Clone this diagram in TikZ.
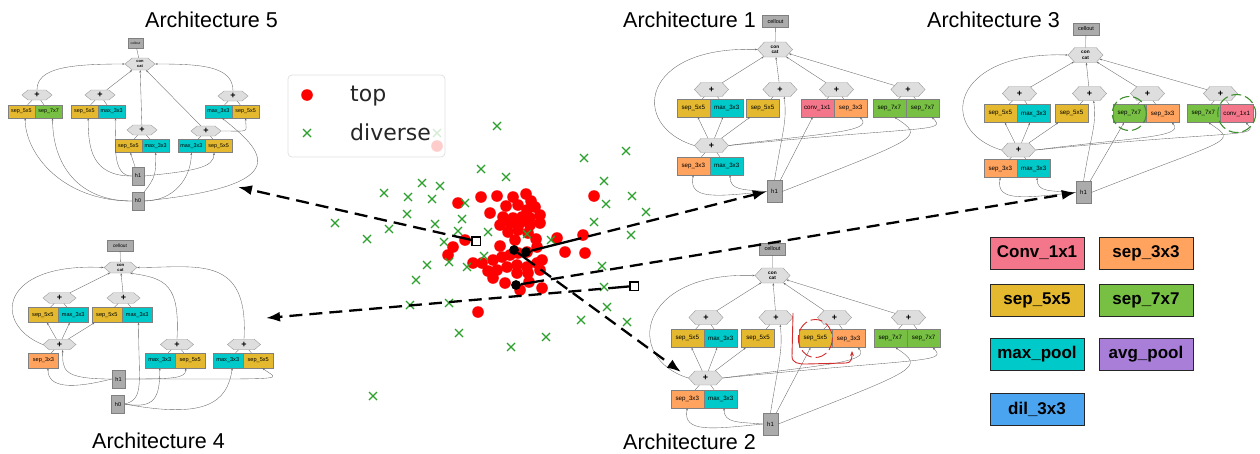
\documentclass[tikz,border=0pt]{standalone}
\usepackage{fontspec}
\setmainfont{Liberation Sans}
\newfontfamily\plotfont{DejaVu Sans}
\usetikzlibrary{calc, positioning, shapes.symbols, arrows.meta}

\definecolor{ColorConv}{HTML}{F4768A}
\definecolor{ColorSepThree}{HTML}{FFA35F}
\definecolor{ColorSepFive}{HTML}{E5B92F}
\definecolor{ColorSepSeven}{HTML}{77C043}
\definecolor{ColorMaxPool}{HTML}{00C9C9}
\definecolor{ColorAvgPool}{HTML}{A97ED9}
\definecolor{ColorDil}{HTML}{4AA4EF}
\definecolor{ColorHex}{HTML}{DEDEDE}
\definecolor{ColorCell}{HTML}{ABABAB}
\definecolor{ColorTop}{HTML}{FF0000}
\definecolor{ColorDiverse}{HTML}{2CA02C}
\definecolor{ColorRedMark}{HTML}{D22B2B}
\definecolor{ColorGreenMark}{HTML}{3F8F2F}

\tikzset{
  opbox/.style={draw=black!50, line width=0.4pt, inner sep=0pt,
    minimum width=33pt, minimum height=18pt, font=\fontsize{6.2}{7}\selectfont},
  conv/.style={opbox, fill=ColorConv},
  septhree/.style={opbox, fill=ColorSepThree},
  sepfive/.style={opbox, fill=ColorSepFive},
  sepseven/.style={opbox, fill=ColorSepSeven},
  maxpool/.style={opbox, fill=ColorMaxPool},
  sumhex/.style={signal, signal to=east and west, signal pointer angle=95,
    draw=black!40, fill=ColorHex, line width=0.4pt, inner sep=0pt,
    minimum width=34pt, minimum height=14pt, font=\bfseries\fontsize{9}{9}\selectfont},
  cathex/.style={sumhex, minimum width=35pt, minimum height=15pt, align=center,
    font=\bfseries\fontsize{4.8}{5.5}\selectfont},
  cellbox/.style={draw=black!50, fill=ColorCell, line width=0.4pt, inner sep=0pt,
    minimum width=26pt, minimum height=12pt, font=\fontsize{5.5}{6}\selectfont},
  inbox/.style={cellbox, minimum width=15pt, minimum height=22pt, font=\fontsize{6}{7}\selectfont},
  flow/.style={draw=black!60, line width=0.35pt, -{Stealth[length=2.4pt, width=1.8pt]}},
  stub/.style={draw=black!60, line width=0.35pt},
  archtitle/.style={font=\fontsize{21.5}{24}\selectfont, anchor=base west, inner sep=0pt},
  legendbox/.style={draw=black!85, line width=0.6pt, minimum width=94pt, minimum height=32pt,
    inner sep=0pt, font=\bfseries\fontsize{17}{20}\selectfont},
  legendtext/.style={font=\plotfont\fontsize{22}{26}\selectfont, anchor=base west,
    inner sep=0pt, text=black!85},
  diversecross/.style={draw=ColorDiverse, line width=1.3pt},
  pick/.style={circle, fill=black, minimum size=9.5pt, inner sep=0pt},
  pickbox/.style={draw=black, line width=1.5pt, fill=white, minimum size=8.5pt, inner sep=0pt},
  lead/.style={line width=2.3pt},
  jump/.style={line width=2.3pt, dash pattern=on 0pt off 7pt on 13pt off 0pt,
    -{Latex[length=14pt, width=10pt]}},
  redmark/.style={draw=ColorRedMark, line width=0.9pt},
  greenmark/.style={draw=ColorGreenMark, line width=1.1pt, dash pattern=on 10pt off 4pt},
}

\begin{document}
\begin{tikzpicture}[x=1pt, y=-1pt]

\useasboundingbox (0,0) rectangle (1260,453);

% Titulos
\node[archtitle] (arch5) at (145,27) {Architecture 5};
\node[archtitle] (arch1) at (623,27) {Architecture 1};
\node[archtitle] (arch3) at (927,27) {Architecture 3};
\node[archtitle] (arch4) at (92,448) {Architecture 4};
\node[archtitle] (arch2) at (623,449) {Architecture 2};

% Nube de puntos: grupo "top"
\foreach \px/\py in {458/203, 481/197, 497/196, 513/197, 526/194, 490/213, 594/196,
    518/205, 527/210, 535/207, 540/215, 503/217, 513/218, 522/217, 530/218, 500/225,
    510/223, 520/223, 530/225, 540/223, 508/232, 518/230, 528/233, 557/238, 583/235,
    565/252, 585/253, 453/247, 448/255, 465/240, 473/263, 482/263, 493/260, 502/257,
    510/255, 518/253, 527/252, 537/247, 542/260, 497/270, 507/267, 517/265, 527/267,
    537/263, 493/278, 505/283, 517/273, 528/273, 540/270, 542/288, 478/312, 437/146,
    506/206, 531/201, 536/239, 500/246, 488/271, 529/282, 520/290, 515/240}
  \fill[ColorTop] (\px,\py) circle[radius=5.8];

% Nube de puntos: grupo "diverse"
\foreach \px/\py in {497/126, 481/169, 506/177, 422/183, 440/186, 384/193, 408/197,
    432/199, 465/203, 407/214, 335/223, 435/224, 462/219, 389/229, 367/239, 444/242,
    458/231, 488/232, 527/234, 551/240, 484/256, 449/262, 427/265, 467/267, 416/280,
    410/305, 449/303, 459/333, 511/347, 546/337, 373/396, 584/158, 626/151, 604/181,
    632/196, 606/204, 646/212, 594/222, 631/235, 602/266, 604/287, 607/307, 581/320,
    627/322, 437/133}
  \draw[diversecross] (\px,\py) ++(-4,-4) -- ++(8,8) ++(-8,0) -- ++(8,-8);

% Leyenda de la nube
\draw[rounded corners=4pt, draw=black!12, line width=0.8pt, fill=white, fill opacity=0.8]
  (288,75) rectangle (445,157);
\fill[ColorTop] (307,95) circle[radius=5.8];
\draw[diversecross] (307,133) ++(-4,-4) -- ++(8,8) ++(-8,0) -- ++(8,-8);
\node[legendtext] (ltop) at (350,101) {top};
\node[legendtext] (ldiverse) at (350,140) {diverse};

% Arquitectura 1
\node[cellbox] (a1out) at (775.5,21.5) {cellout};
\node[cathex] (a1cat) at (775,49.5) {con\\cat};
\node[sumhex] (a1sa) at (711.5,89.5) {+};
\node[sumhex] (a1sb) at (780,89.5) {+};
\node[sumhex] (a1sc) at (836.5,89.5) {+};
\node[sumhex] (a1sd) at (908,89.5) {+};
\node[sepfive, anchor=east] (a1oa) at (710,108) {sep\_5x5};
\node[maxpool, right=0pt of a1oa] (a1oar) {max\_3x3};
\node[sepfive] (a1ob) at (762.5,108) {sep\_5x5};
\node[conv, anchor=east] (a1oc) at (834,108) {conv\_1x1};
\node[septhree, right=0pt of a1oc] (a1ocr) {sep\_3x3};
\node[sepseven, anchor=east] (a1od) at (906,108) {sep\_7x7};
\node[sepseven, right=0pt of a1od] (a1odr) {sep\_7x7};
\node[sumhex] (a1sl) at (711.5,145.5) {+};
\node[septhree, anchor=east] (a1ol) at (710,166) {sep\_3x3};
\node[maxpool, right=0pt of a1ol] (a1olr) {max\_3x3};
\node[inbox] (a1h1) at (774.5,191.5) {h1};

\draw[stub] (a1out) -- (a1cat);
\draw[flow] (a1sa) -- (a1cat);
\draw[flow] (a1sb) -- (a1cat);
\draw[flow] (a1sc) -- (a1cat);
\draw[flow] (a1sd) -- (a1cat);
\draw[stub] (a1oa) -- (a1sa) (a1oar) -- (a1sa) (a1ob) -- (a1sb) (a1oc) -- (a1sc)
  (a1ocr) -- (a1sc) (a1od) -- (a1sd) (a1odr) -- (a1sd) (a1ol) -- (a1sl) (a1olr) -- (a1sl);
\draw[flow] (a1sl) -- (a1oa);
\draw[flow] (a1sl) -- (a1oar);
\draw[flow] (a1sl) -- (a1ob);
\draw[flow] (a1sl.west) .. controls +(-65,-20) and +(-117,-4) .. (a1cat.west);
\draw[flow] (a1sl.east) .. controls +(90,-12) and +(15,15) .. (a1ocr.-45);
\draw[flow] (a1sl.east) .. controls +(200,-20) and +(15,15) .. (a1odr.-45);
\draw[flow] (a1h1.west) .. controls +(-50,5) and +(-5,25) .. (a1ol.south);
\draw[flow] (a1h1.west) .. controls +(-25,-2) and +(0,15) .. (a1olr.-70);
\draw[flow] (a1h1.north) .. controls +(8,-50) and +(3,25) .. (a1sb.-60);
\draw[flow] (a1h1) -- (a1oc);
\draw[flow] (a1h1.east) .. controls +(140,-55) and +(30,20) .. (a1od.-60);

% Arquitectura 3
\node[cellbox] (a3out) at (1086,29) {cellout};
\node[cathex] (a3cat) at (1085.5,55) {con\\cat};
\node[sumhex] (a3sa) at (1019.5,93.5) {+};
\node[sumhex] (a3sb) at (1089.5,93.5) {+};
\node[sumhex] (a3sc) at (1147.5,93.5) {+};
\node[sumhex] (a3sd) at (1220.5,93.5) {+};
\node[sepfive, anchor=east] (a3oa) at (1017,113.5) {sep\_5x5};
\node[maxpool, right=0pt of a3oa] (a3oar) {max\_3x3};
\node[sepfive] (a3ob) at (1071.5,113.5) {sep\_5x5};
\node[sepseven, anchor=east] (a3oc) at (1146,113.5) {sep\_7x7};
\node[septhree, right=0pt of a3oc] (a3ocr) {sep\_3x3};
\node[sepseven, anchor=east] (a3od) at (1220,113.5) {sep\_7x7};
\node[conv, right=0pt of a3od] (a3odr) {conv\_1x1};
\node[sumhex] (a3sl) at (1018.5,150) {+};
\node[septhree, anchor=east] (a3ol) at (1017,168.5) {sep\_3x3};
\node[maxpool, right=0pt of a3ol] (a3olr) {max\_3x3};
\node[inbox] (a3h1) at (1083.5,192.5) {h1};

\draw[stub] (a3out) -- (a3cat);
\draw[flow] (a3sa) -- (a3cat);
\draw[flow] (a3sb) -- (a3cat);
\draw[flow] (a3sc) -- (a3cat);
\draw[flow] (a3sd) -- (a3cat);
\draw[stub] (a3oa) -- (a3sa) (a3oar) -- (a3sa) (a3ob) -- (a3sb) (a3oc) -- (a3sc)
  (a3ocr) -- (a3sc) (a3od) -- (a3sd) (a3odr) -- (a3sd) (a3ol) -- (a3sl) (a3olr) -- (a3sl);
\draw[flow] (a3sl) -- (a3oa);
\draw[flow] (a3sl) -- (a3oar);
\draw[flow] (a3sl) -- (a3ob);
\draw[flow] (a3sl.west) .. controls +(-65,-20) and +(-117,-4) .. (a3cat.west);
\draw[flow] (a3sl.east) .. controls +(90,-12) and +(15,15) .. (a3ocr.-45);
\draw[flow] (a3sl.east) .. controls +(200,-20) and +(15,15) .. (a3odr.-45);
\draw[flow] (a3h1.west) .. controls +(-50,5) and +(-5,25) .. (a3ol.south);
\draw[flow] (a3h1.west) .. controls +(-25,-2) and +(0,15) .. (a3olr.-70);
\draw[flow] (a3h1.north) .. controls +(8,-50) and +(3,25) .. (a3sb.-60);
\draw[flow] (a3h1) -- (a3oc);
\draw[flow] (a3h1.east) .. controls +(140,-55) and +(30,20) .. (a3od.-60);
\draw[greenmark] (a3oc.center) circle[radius=17];
\draw[greenmark] (a3odr.center) circle[radius=19];

% Arquitectura 2
\node[cellbox] (a2out) at (772.5,249) {cellout};
\node[cathex] (a2cat) at (772.5,275.5) {con\\cat};
\node[sumhex] (a2sa) at (706,317.5) {+};
\node[sumhex] (a2sb) at (776,317.5) {+};
\node[sumhex] (a2sc) at (834.5,317.5) {+};
\node[sumhex] (a2sd) at (908.5,317.5) {+};
\node[sepfive, anchor=east] (a2oa) at (704,338.5) {sep\_5x5};
\node[maxpool, right=0pt of a2oa] (a2oar) {max\_3x3};
\node[sepfive] (a2ob) at (758,338.5) {sep\_5x5};
\node[sepfive, anchor=east] (a2oc) at (832,338.5) {sep\_5x5};
\node[septhree, right=0pt of a2oc] (a2ocr) {sep\_3x3};
\node[sepseven, anchor=east] (a2od) at (907,338.5) {sep\_7x7};
\node[sepseven, right=0pt of a2od] (a2odr) {sep\_7x7};
\node[sumhex] (a2sl) at (705.5,378) {+};
\node[septhree, anchor=east] (a2ol) at (704,399) {sep\_3x3};
\node[maxpool, right=0pt of a2ol] (a2olr) {max\_3x3};
\node[inbox] (a2h1) at (770.5,424) {h1};

\draw[stub] (a2out) -- (a2cat);
\draw[flow] (a2sa) -- (a2cat);
\draw[flow] (a2sb) -- (a2cat);
\draw[flow] (a2sc) -- (a2cat);
\draw[flow] (a2sd) -- (a2cat);
\draw[stub] (a2oa) -- (a2sa) (a2oar) -- (a2sa) (a2ob) -- (a2sb) (a2oc) -- (a2sc)
  (a2ocr) -- (a2sc) (a2od) -- (a2sd) (a2odr) -- (a2sd) (a2ol) -- (a2sl) (a2olr) -- (a2sl);
\draw[flow] (a2sl) -- (a2oa);
\draw[flow] (a2sl) -- (a2oar);
\draw[flow] (a2sl) -- (a2ob);
\draw[flow] (a2sl.west) .. controls +(-65,-20) and +(-117,-4) .. (a2cat.west);
\draw[flow] (a2sl.east) .. controls +(90,-12) and +(15,15) .. (a2ocr.-45);
\draw[flow] (a2sl.east) .. controls +(200,-20) and +(15,15) .. (a2odr.-45);
\draw[flow] (a2h1.west) .. controls +(-50,5) and +(-5,25) .. (a2ol.south);
\draw[flow] (a2h1.west) .. controls +(-25,-2) and +(0,15) .. (a2olr.-70);
\draw[flow] (a2h1.north) .. controls +(8,-50) and +(3,25) .. (a2sb.-60);
\draw[flow] (a2h1) -- (a2oc);
\draw[flow] (a2h1.east) .. controls +(140,-55) and +(30,20) .. (a2od.-60);

% Marca roja a mano
\draw[redmark, dash pattern=on 12pt off 4pt] (a2oc.center) ellipse[x radius=17, y radius=19];
\draw[redmark, -{Stealth[length=5pt, width=4pt]}] (793,313) -- (792,356)
  .. controls (792,363) and (798,364) .. (806,364) -- (846,363)
  .. controls (851,363) and (852,359) .. (852,351);

% Arquitectura 4
\begin{scope}[opbox/.append style={minimum width=30pt, minimum height=15pt, font=\fontsize{5.6}{6}\selectfont},
    sumhex/.append style={minimum width=33pt, minimum height=10.5pt, signal pointer angle=80},
    cathex/.append style={minimum width=33pt, minimum height=11pt, font=\bfseries\fontsize{4.2}{4.8}\selectfont},
    cellbox/.append style={minimum width=26pt, minimum height=11pt, font=\fontsize{4.8}{5}\selectfont},
    inbox/.append style={minimum width=13pt, minimum height=18pt, font=\fontsize{5.6}{6}\selectfont}]
\node[cellbox] (a4out) at (120,245.5) {cellout};
\node[cathex] (a4cat) at (120.5,267.5) {con\\cat};
\node[sumhex] (a4sa) at (59.5,298) {+};
\node[sumhex] (a4sb) at (123.5,298) {+};
\node[sepfive, anchor=east] (a4oa) at (58,315) {sep\_5x5};
\node[maxpool, right=0pt of a4oa] (a4oar) {max\_3x3};
\node[sepfive, anchor=east] (a4ob) at (122,315) {sep\_5x5};
\node[maxpool, right=0pt of a4ob] (a4obr) {max\_3x3};
\node[sumhex] (a4sl) at (59.5,344.5) {+};
\node[septhree] (a4ol) at (43.5,360.5) {sep\_3x3};
\node[sumhex] (a4sc) at (177,344.5) {+};
\node[maxpool, anchor=east] (a4oc) at (175,360.5) {max\_3x3};
\node[sepfive, right=0pt of a4oc] (a4ocr) {sep\_5x5};
\node[sumhex] (a4sd) at (244,344.5) {+};
\node[maxpool, anchor=east] (a4od) at (243,360.5) {max\_3x3};
\node[sepfive, right=0pt of a4od] (a4odr) {sep\_5x5};
\node[inbox] (a4h1) at (118.5,379) {h1};
\node[inbox] (a4h0) at (118,404) {h0};
\end{scope}

\draw[stub] (a4out) -- (a4cat);
\draw[flow] (a4sa) -- (a4cat);
\draw[flow] (a4sb) -- (a4cat);
\draw[flow] (a4sl.west) .. controls +(-50,-20) and +(-105,-5) .. (a4cat.west);
\draw[flow] (a4sc.north) .. controls +(3,-55) and +(35,5) .. (a4cat.-30);
\draw[flow] (a4sd.north) .. controls +(5,-85) and +(60,0) .. (a4cat.east);
\draw[stub] (a4oa) -- (a4sa) (a4oar) -- (a4sa) (a4ob) -- (a4sb) (a4obr) -- (a4sb)
  (a4ol) -- (a4sl) (a4oc) -- (a4sc) (a4ocr) -- (a4sc) (a4od) -- (a4sd) (a4odr) -- (a4sd);
\draw[flow] (a4sl) -- (a4oa);
\draw[flow] (a4sl) -- (a4oar);
\draw[flow] (a4sl) -- (a4ob);
\draw[flow] (a4h1.west) .. controls +(-50,0) and +(0,20) .. (a4sl.-60);
\draw[flow] (a4h1.west) .. controls +(-40,10) and +(0,20) .. (a4ol.-60);
\draw[flow] (a4h0.east) .. controls +(20,-5) and +(0,60) .. (a4obr.-80);
\draw[flow] (a4h0.east) .. controls +(30,5) and +(0,30) .. (a4oc.south);
\draw[flow] (a4h1.east) .. controls +(50,0) and +(0,10) .. (a4ocr.-120);
\draw[flow] (a4h0.east) .. controls +(80,15) and +(-5,35) .. (a4od.-60);
\draw[flow] (a4h1.east) .. controls +(175,0) and +(15,12) .. (a4odr.-60);

% Arquitectura 5
\begin{scope}[opbox/.append style={minimum width=27pt, minimum height=13pt, font=\fontsize{5.4}{6}\selectfont},
    sumhex/.append style={minimum width=30pt, minimum height=10pt, signal pointer angle=80},
    cathex/.append style={minimum width=30pt, minimum height=12pt, font=\bfseries\fontsize{4}{4.6}\selectfont},
    cellbox/.append style={minimum width=15pt, minimum height=10pt, font=\fontsize{3.3}{4}\selectfont},
    inbox/.append style={minimum width=12pt, minimum height=18pt, font=\fontsize{5.4}{6}\selectfont}]
\node[cellbox] (a5out) at (135.5,43) {cellout};
\node[cathex] (a5cat) at (140,64) {con\\cat};
\node[sumhex] (a5sa) at (37,95) {+};
\node[sumhex] (a5sb) at (100,95) {+};
\node[sumhex] (a5sc) at (142,130) {+};
\node[sumhex] (a5sd) at (206,131) {+};
\node[sumhex] (a5se) at (233,96) {+};
\node[sepfive, anchor=east] (a5oa) at (35,111.5) {sep\_5x5};
\node[sepseven, right=0pt of a5oa] (a5oar) {sep\_7x7};
\node[sepfive, anchor=east] (a5ob) at (98,111.5) {sep\_5x5};
\node[maxpool, right=0pt of a5ob] (a5obr) {max\_3x3};
\node[sepfive, anchor=east] (a5oc) at (142,146) {sep\_5x5};
\node[maxpool, right=0pt of a5oc] (a5ocr) {max\_3x3};
\node[maxpool, anchor=east] (a5od) at (205,146) {max\_3x3};
\node[sepfive, right=0pt of a5od] (a5odr) {sep\_5x5};
\node[maxpool, anchor=east] (a5oe) at (232,111.5) {max\_3x3};
\node[sepfive, right=0pt of a5oe] (a5oer) {sep\_5x5};
\node[inbox] (a5h1) at (138,176) {h1};
\node[inbox] (a5h0) at (138,201) {h0};
\end{scope}

\draw[stub] (a5out) -- (a5cat);
\draw[flow] (a5sa.north) .. controls +(0,-22) and +(-55,0) .. (a5cat.west);
\draw[flow] (a5sb) -- (a5cat);
\draw[flow] (a5sc) -- (a5cat);
\draw[flow] (a5sd) -- (a5cat);
\draw[flow] (a5se.north) .. controls +(0,-25) and +(45,0) .. (a5cat.east);
\draw[stub] (a5oa) -- (a5sa) (a5oar) -- (a5sa) (a5ob) -- (a5sb) (a5obr) -- (a5sb)
  (a5oc) -- (a5sc) (a5ocr) -- (a5sc) (a5od) -- (a5sd) (a5odr) -- (a5sd)
  (a5oe) -- (a5se) (a5oer) -- (a5se);
\draw[flow] (a5h0.west) .. controls +(-70,0) and +(0,35) .. (a5oa.-60);
\draw[flow] (a5h0.west) .. controls +(-55,0) and +(0,45) .. (a5oar.-60);
\draw[flow] (a5h1.west) .. controls +(-40,0) and +(0,30) .. (a5ob.-60);
\draw[flow] (a5h1.west) .. controls +(-20,0) and +(0,25) .. (a5obr.-60);
\draw[flow] (a5h1) -- (a5oc);
\draw[flow] (a5h0.north east) .. controls +(12,-15) and +(0,20) .. (a5ocr.south);
\draw[flow] (a5h0.east) .. controls +(30,0) and +(0,25) .. (a5od.south);
\draw[flow] (a5h1.east) .. controls +(50,-5) and +(0,15) .. (a5odr.-125);
\draw[flow] (a5h0.east) .. controls +(156,-16) and +(40,32) .. (a5oe.-60);
\draw[flow] (a5sd.east) .. controls +(30,0) and +(0,15) .. (a5oer.south);

% Leyenda de operaciones
\node[legendbox, fill=ColorConv] (lconv) at (1037,253) {Conv\_1x1};
\node[legendbox, fill=ColorSepThree] (lsepthree) at (1146,253) {sep\_3x3};
\node[legendbox, fill=ColorSepFive] (lsepfive) at (1037,300) {sep\_5x5};
\node[legendbox, fill=ColorSepSeven] (lsepseven) at (1146,300) {sep\_7x7};
\node[legendbox, fill=ColorMaxPool] (lmaxpool) at (1037,354.5) {max\_pool};
\node[legendbox, fill=ColorAvgPool] (lavgpool) at (1146,354.5) {avg\_pool};
\node[legendbox, fill=ColorDil] (ldil) at (1037,409) {dil\_3x3};

% Flechas desde la nube hacia cada arquitectura
\node[pickbox] (m5) at (476,241) {};
\node[pick] (m2) at (514,250) {};
\node[pick] (m1) at (526,252) {};
\node[pick] (m3) at (516,285) {};
\node[pickbox] (m4) at (634,286) {};
\coordinate (t5) at (238,187);
\coordinate (t4) at (266,318);
\coordinate (t2) at (681,372);

\draw[lead] (m5) -- ($(m5)!0.1!(t5)$);
\draw[jump] ($(m5)!0.1!(t5)$) -- (t5);
\draw[lead] (m1) -- ($(m1)!0.23!(a1h1.west)$);
\draw[jump] ($(m1)!0.23!(a1h1.west)$) -- (a1h1.west);
\draw[lead] (m3) -- ($(m3)!0.05!(a3h1.west)$);
\draw[jump] ($(m3)!0.05!(a3h1.west)$) -- (a3h1.west);
\draw[lead] (m4) -- ($(m4)!0.07!(t4)$);
\draw[jump] ($(m4)!0.07!(t4)$) -- (t4);
\draw[lead] (m2) -- ($(m2)!0.125!(t2)$);
\draw[jump] ($(m2)!0.125!(t2)$) -- (t2);

% Marcadores encima de las flechas
\node[pickbox] at (m5) {};
\node[pick] at (m2) {};
\node[pick] at (m1) {};
\node[pick] at (m3) {};
\node[pickbox] at (m4) {};

\end{tikzpicture}
\end{document}
